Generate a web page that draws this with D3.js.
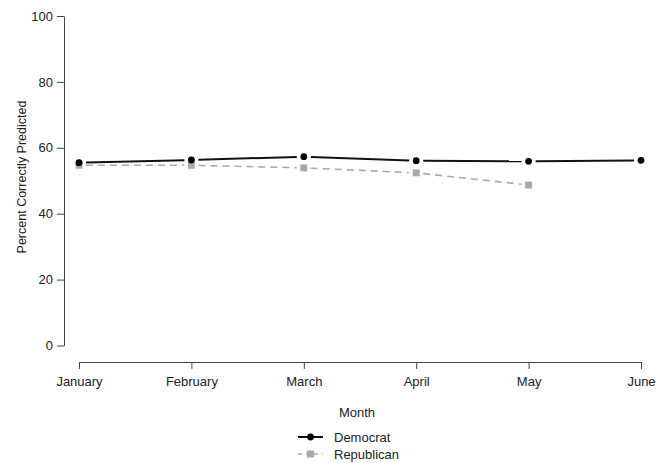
<!DOCTYPE html>
<html>
<head>
<meta charset="utf-8">
<script src="https://cdn.jsdelivr.net/npm/d3@7"></script>
<style>
body { margin: 0; background: #fff; }
text { font-family: "Liberation Sans", Arial, sans-serif; fill: #222; }
.axis path, .axis line { stroke: #444; }
</style>
</head>
<body>
<div id="chart"></div>
<script>
var months = ["January", "February", "March", "April", "May", "June"];
var democrat = [55.5, 56.3, 57.3, 56.1, 55.9, 56.2];
var republican = [54.7, 54.7, 53.9, 52.4, 48.7];
var yTicks = [0, 20, 40, 60, 80, 100];

var w = 667, h = 463;
var gap = 7;

var svg = d3.select("#chart").append("svg").attr("width", w).attr("height", h);

var xScale = d3.scalePoint().domain(months).range([79, 641]);
var yScale = d3.scaleLinear().domain([0, 100]).range([345.5, 16]);

/* y axis */
var yAxis = d3.axisLeft(yScale).tickValues(yTicks).tickSize(7).tickPadding(4).tickSizeOuter(0);
svg.append("g")
	.attr("class", "axis")
	.attr("transform", "translate(64,0)")
	.call(yAxis)
	.call(function (g) { g.selectAll("text").style("font-size", "13px"); });

/* x axis */
var xAxis = d3.axisBottom(xScale).tickSize(7).tickPadding(8).tickSizeOuter(0);
svg.append("g")
	.attr("class", "axis")
	.attr("transform", "translate(0,362)")
	.call(xAxis)
	.call(function (g) { g.selectAll("text").style("font-size", "13px"); });

/* axis titles */
svg.append("text")
	.attr("transform", "translate(26,177) rotate(-90)")
	.style("text-anchor", "middle")
	.style("font-size", "12.5px")
	.text("Percent Correctly Predicted");

svg.append("text")
	.attr("x", 357).attr("y", 417)
	.style("text-anchor", "middle")
	.style("font-size", "13px")
	.text("Month");

/* segments between points, cut short near the markers (like R type="b") */
function segments(values) {
	var pts = values.map(function (d, i) { return [xScale(months[i]), yScale(d)]; });
	var segs = [];
	for (var i = 0; i < pts.length - 1; ++i) {
		var a = pts[i], b = pts[i + 1];
		var dx = b[0] - a[0], dy = b[1] - a[1];
		var len = Math.sqrt(dx * dx + dy * dy);
		var ux = dx / len, uy = dy / len;
		segs.push([a[0] + ux * gap, a[1] + uy * gap, b[0] - ux * gap, b[1] - uy * gap]);
	}
	return segs;
}

function drawSegs(values, color, width, dash) {
	svg.append("g").selectAll("line").data(segments(values)).enter()
		.append("line")
		.attr("x1", function (d) { return d[0]; })
		.attr("y1", function (d) { return d[1]; })
		.attr("x2", function (d) { return d[2]; })
		.attr("y2", function (d) { return d[3]; })
		.attr("stroke", color)
		.attr("stroke-width", width)
		.attr("stroke-dasharray", dash);
}

drawSegs(republican, "#aaaaaa", 1.6, "7,5");
drawSegs(democrat, "#111", 2, null);

svg.selectAll("rect.rep").data(republican).enter()
	.append("rect")
	.attr("x", function (d, i) { return xScale(months[i]) - 3.5; })
	.attr("y", function (d) { return yScale(d) - 3.5; })
	.attr("width", 7).attr("height", 7)
	.attr("fill", "#aaaaaa");

svg.selectAll("circle.dem").data(democrat).enter()
	.append("circle")
	.attr("cx", function (d, i) { return xScale(months[i]); })
	.attr("cy", function (d) { return yScale(d); })
	.attr("r", 3.4)
	.attr("fill", "#000");

/* legend */
var legend = svg.append("g");
legend.append("line")
	.attr("x1", 298).attr("x2", 323).attr("y1", 437).attr("y2", 437)
	.attr("stroke", "#111").attr("stroke-width", 2);
legend.append("circle")
	.attr("cx", 310.5).attr("cy", 437).attr("r", 3.4).attr("fill", "#000");
legend.append("text")
	.attr("x", 334).attr("y", 442)
	.style("font-size", "13px")
	.text("Democrat");

legend.append("line")
	.attr("x1", 298).attr("x2", 323).attr("y1", 454).attr("y2", 454)
	.attr("stroke", "#aaaaaa").attr("stroke-width", 1.6)
	.attr("stroke-dasharray", "4,4");
legend.append("rect")
	.attr("x", 307).attr("y", 450.5).attr("width", 7).attr("height", 7)
	.attr("fill", "#aaaaaa");
legend.append("text")
	.attr("x", 334).attr("y", 459)
	.style("font-size", "13px")
	.text("Republican");
</script>
</body>
</html>
